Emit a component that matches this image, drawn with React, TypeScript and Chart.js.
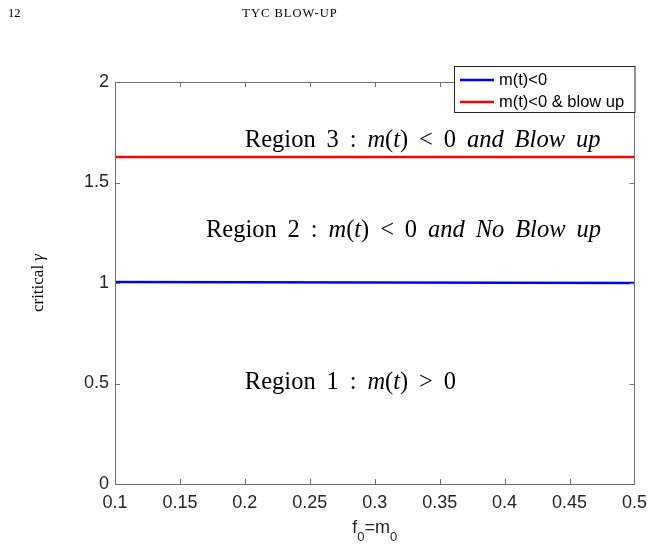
import React, { useEffect, useRef } from "react";
import { Chart, registerables } from "chart.js";

Chart.register(...registerables);

// ---- data ----
const xTicks = [0.1, 0.15, 0.2, 0.25, 0.3, 0.35, 0.4, 0.45, 0.5];
const xTickLabels = ["0.1", "0.15", "0.2", "0.25", "0.3", "0.35", "0.4", "0.45", "0.5"];
const yTicks = [0, 0.5, 1, 1.5, 2];
const yTickLabels = ["0", "0.5", "1", "1.5", "2"];

const blueX = [0.1, 0.3, 0.5];
const blueY = [1.005, 1.003, 1.0];
const redX = [0.1, 0.3, 0.5];
const redY = [1.627, 1.627, 1.627];
const seriesLabels = ["m(t)<0", "m(t)<0 & blow up"];
const seriesColors = ["#0000ff", "#ff0000"];

// annotation texts: [text, style] segments (r = roman, i = italic)
const region3 = [["Region 3 : ", "r"], ["m", "i"], ["(", "r"], ["t", "i"], [")", "r"], [" < 0 ", "r"], ["and Blow up", "i"]];
const region2 = [["Region 2 : ", "r"], ["m", "i"], ["(", "r"], ["t", "i"], [")", "r"], [" < 0 ", "r"], ["and No Blow up", "i"]];
const region1 = [["Region 1 : ", "r"], ["m", "i"], ["(", "r"], ["t", "i"], [")", "r"], [" > 0", "r"]];
const regionTexts = [region3, region2, region1];
const regionX = [0.2, 0.17, 0.2];
const regionY = [1.677, 1.23, 0.473];

const headerPage = "12";
const headerTitle = "TYC BLOW-UP";
const xTitleParts = ["f", "0", "=m", "0"];
const yTitleParts = ["critical ", "\u03b3"];

const SERIF = '"Liberation Serif", "Times New Roman", serif';
const SANS = '"Liberation Sans", Arial, Helvetica, sans-serif';

function fontFor(s: string, size: number) {
  return `${s === "i" ? "italic " : ""}${size}px ${SERIF}`;
}

function richWidth(ctx: CanvasRenderingContext2D, segs: string[][], size: number) {
  let w = 0;
  for (const [t, s] of segs) {
    ctx.font = fontFor(s, size);
    w += ctx.measureText(t).width;
  }
  return w;
}

function spaceCount(segs: string[][]) {
  return segs.reduce((a, [t]) => a + (t.match(/ /g) || []).length, 0);
}

function drawRich(ctx: CanvasRenderingContext2D, segs: string[][], x: number, y: number, size: number, extra: number) {
  let cx = x;
  for (const [t, s] of segs) {
    ctx.font = fontFor(s, size);
    for (const tok of t.split(/( )/)) {
      if (!tok) continue;
      if (tok === " ") {
        cx += ctx.measureText(" ").width + extra;
      } else {
        ctx.fillText(tok, cx, y);
        cx += ctx.measureText(tok).width;
      }
    }
  }
}

export default function App() {
  const ref = useRef<HTMLCanvasElement>(null);

  useEffect(() => {
    const canvas = ref.current!;
    const axisColor = "#6f6f6f";
    const tickLen = 5;

    const overlay = {
      id: "overlay",
      afterDatasetsDraw(chart: any) {
        const ctx: CanvasRenderingContext2D = chart.ctx;
        const { left, right, top, bottom } = chart.chartArea;
        const xs = chart.scales.x;
        const ys = chart.scales.y;
        ctx.save();
        // box
        ctx.strokeStyle = axisColor;
        ctx.lineWidth = 1;
        ctx.beginPath();
        ctx.rect(Math.round(left) + 0.5, Math.round(top) + 0.5, Math.round(right - left), Math.round(bottom - top));
        ctx.stroke();
        // inward ticks
        ctx.beginPath();
        for (const v of xTicks) {
          const px = Math.round(xs.getPixelForValue(v)) + 0.5;
          ctx.moveTo(px, bottom);
          ctx.lineTo(px, bottom - tickLen);
          ctx.moveTo(px, top);
          ctx.lineTo(px, top + tickLen);
        }
        for (const v of yTicks) {
          const py = Math.round(ys.getPixelForValue(v)) + 0.5;
          ctx.moveTo(left, py);
          ctx.lineTo(left + tickLen, py);
          ctx.moveTo(right, py);
          ctx.lineTo(right - tickLen, py);
        }
        ctx.stroke();

        // region annotations
        ctx.fillStyle = "#000";
        ctx.textBaseline = "alphabetic";
        ctx.textAlign = "left";
        const size = 24.5;
        const w0 = richWidth(ctx, region2, size);
        const extra = Math.max(0, (395 - w0) / spaceCount(region2));
        regionTexts.forEach((segs, i) => {
          drawRich(ctx, segs, xs.getPixelForValue(regionX[i]), ys.getPixelForValue(regionY[i]), size, extra);
        });

        // x title
        const cxTitle = (left + right) / 2;
        ctx.fillStyle = "#262626";
        const big = `18px ${SANS}`;
        const small = `13px ${SANS}`;
        const widths = xTitleParts.map((t, i) => {
          ctx.font = i % 2 === 0 ? big : small;
          return ctx.measureText(t).width;
        });
        let tx = cxTitle - widths.reduce((a, b) => a + b, 0) / 2;
        const baseY = 533;
        xTitleParts.forEach((t, i) => {
          ctx.font = i % 2 === 0 ? big : small;
          ctx.fillText(t, tx, i % 2 === 0 ? baseY : baseY + 8);
          tx += widths[i];
        });

        // y title
        ctx.save();
        ctx.translate(43, (top + bottom) / 2);
        ctx.rotate(-Math.PI / 2);
        ctx.fillStyle = "#000";
        ctx.font = `17px ${SERIF}`;
        const w1 = ctx.measureText(yTitleParts[0]).width;
        ctx.font = `italic 17px ${SERIF}`;
        const w2 = ctx.measureText(yTitleParts[1]).width;
        const yx = -(w1 + w2) / 2;
        ctx.font = `17px ${SERIF}`;
        ctx.fillText(yTitleParts[0], yx, 0);
        ctx.font = `italic 17px ${SERIF}`;
        ctx.fillText(yTitleParts[1], yx + w1, 0);
        ctx.restore();

        // header
        ctx.fillStyle = "#000";
        ctx.font = `12.5px ${SERIF}`;
        ctx.textBaseline = "alphabetic";
        ctx.textAlign = "left";
        ctx.fillText(headerPage, 8, 17);
        ctx.textAlign = "center";
        (ctx as any).letterSpacing = "1px";
        ctx.fillText(headerTitle, 290, 17);
        (ctx as any).letterSpacing = "0px";
        ctx.restore();
      },
      afterDraw(chart: any) {
        const ctx: CanvasRenderingContext2D = chart.ctx;
        const right = chart.chartArea.right;
        ctx.save();
        const bx = 454.5, by = 66.5, bw = right - 454, bh = 46;
        ctx.fillStyle = "#fff";
        ctx.fillRect(bx, by, bw, bh);
        ctx.strokeStyle = "#262626";
        ctx.lineWidth = 1;
        ctx.strokeRect(bx, by, bw, bh);
        chart.data.datasets.forEach((ds: any, i: number) => {
          const y = 80 + i * 22;
          ctx.strokeStyle = ds.borderColor;
          ctx.lineWidth = 2.5;
          ctx.beginPath();
          ctx.moveTo(460, y);
          ctx.lineTo(494, y);
          ctx.stroke();
          ctx.fillStyle = "#000";
          ctx.font = `16.5px ${SANS}`;
          ctx.textBaseline = "middle";
          ctx.textAlign = "left";
          ctx.fillText(ds.label, 499, y);
        });
        ctx.restore();
      },
    };

    const chart = new Chart(canvas, {
      type: "line",
      data: {
        datasets: [
          {
            label: seriesLabels[0],
            data: blueX.map((x, i) => ({ x, y: blueY[i] })),
            borderColor: seriesColors[0],
            backgroundColor: seriesColors[0],
            borderWidth: 2.5,
            pointRadius: 0,
            tension: 0,
          },
          {
            label: seriesLabels[1],
            data: redX.map((x, i) => ({ x, y: redY[i] })),
            borderColor: seriesColors[1],
            backgroundColor: seriesColors[1],
            borderWidth: 2.5,
            pointRadius: 0,
            tension: 0,
          },
        ],
      },
      options: {
        responsive: false,
        animation: false,
        devicePixelRatio: 1,
        layout: { padding: { top: 82, right: 19, left: 0, bottom: 0 } },
        plugins: { legend: { display: false }, tooltip: { enabled: false }, title: { display: false } },
        scales: {
          x: {
            type: "linear",
            min: 0.1,
            max: 0.5,
            grid: { display: false, drawTicks: false },
            border: { display: false },
            afterBuildTicks: (s: any) => {
              s.ticks = xTicks.map((v) => ({ value: v }));
            },
            afterFit: (s: any) => {
              s.height = 68;
            },
            ticks: {
              autoSkip: false,
              maxRotation: 0,
              padding: 8,
              color: "#262626",
              font: { family: SANS, size: 18 },
              callback: (v: any) => xTickLabels[xTicks.findIndex((t) => Math.abs(t - v) < 1e-9)] ?? "",
            },
          },
          y: {
            type: "linear",
            min: 0,
            max: 2,
            grid: { display: false, drawTicks: false },
            border: { display: false },
            afterBuildTicks: (s: any) => {
              s.ticks = yTicks.map((v) => ({ value: v }));
            },
            afterFit: (s: any) => {
              s.width = 115;
            },
            ticks: {
              autoSkip: false,
              padding: 6,
              color: "#262626",
              font: { family: SANS, size: 18 },
              callback: (v: any) => yTickLabels[yTicks.findIndex((t) => Math.abs(t - v) < 1e-9)] ?? "",
            },
          },
        },
      },
      plugins: [overlay],
    } as any);

    return () => chart.destroy();
  }, []);

  return (
    <div style={{ position: "fixed", left: 0, top: 0, width: 655, height: 552, background: "#fff" }}>
      <canvas ref={ref} width={655} height={552} style={{ width: 655, height: 552, display: "block" }} />
    </div>
  );
}
